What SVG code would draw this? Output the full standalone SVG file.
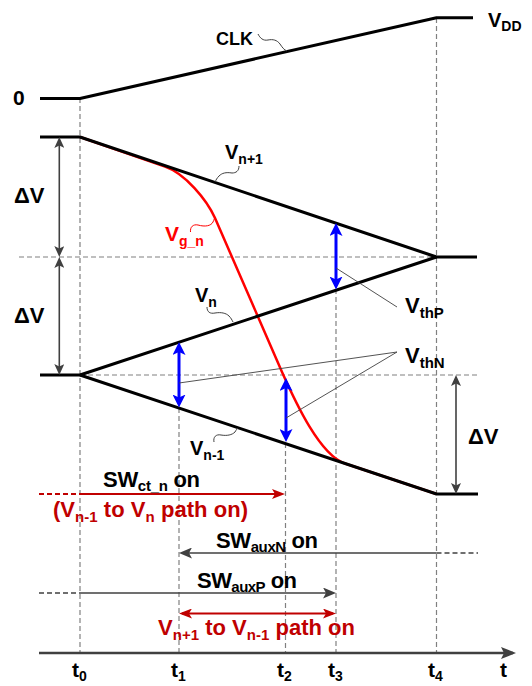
<svg xmlns="http://www.w3.org/2000/svg" width="532" height="686" viewBox="0 0 532 686">
<style>
.t{font-family:"Liberation Sans",Arial,sans-serif;font-weight:bold;font-size:21px;fill:#000}
.s{font-size:14px}
.b{font-size:22px}
.b .s{font-size:15px}
.dr{fill:#C00000}
.br{fill:#FF0000}
.dash{stroke:#808080;stroke-width:1.2;stroke-dasharray:5 3;fill:none}
.wave{stroke:#000;stroke-width:3;fill:none;stroke-linejoin:round}
.sq{stroke:#404040;stroke-width:1;fill:none}
.ld{stroke:#404040;stroke-width:0.9;fill:none}
.ga{stroke:#404040;stroke-width:1.6;fill:none}
.ra{stroke:#C00000;stroke-width:2;fill:none}
.bl{stroke:#0000FF;stroke-width:3;fill:none}
</style>
<defs>
<marker id="mb" markerUnits="userSpaceOnUse" viewBox="0 0 13 13" markerWidth="13" markerHeight="13" refX="9" refY="6.5" orient="auto-start-reverse"><path d="M0,0 L13,6.5 L0,13 L3,6.5 z" fill="#0000FF"/></marker>
<marker id="mg" markerUnits="userSpaceOnUse" viewBox="0 0 11 10" markerWidth="11" markerHeight="10" refX="8" refY="5" orient="auto-start-reverse"><path d="M0,0 L11,5 L0,10 L2.5,5 z" fill="#404040"/></marker>
<marker id="mg2" markerUnits="userSpaceOnUse" viewBox="0 0 13 11" markerWidth="13" markerHeight="11" refX="10" refY="5.5" orient="auto-start-reverse"><path d="M0,0 L13,5.5 L0,11 L3,5.5 z" fill="#404040"/></marker>
<marker id="mr" markerUnits="userSpaceOnUse" viewBox="0 0 13 10" markerWidth="13" markerHeight="10" refX="10" refY="5" orient="auto-start-reverse"><path d="M0,0 L13,5 L0,10 L3,5 z" fill="#C00000"/></marker>
<marker id="mt" markerUnits="userSpaceOnUse" viewBox="0 0 15 12" markerWidth="15" markerHeight="12" refX="12" refY="6" orient="auto"><path d="M0,0 L15,6 L0,12 L3,6 z" fill="#404040"/></marker>
</defs>
<rect width="532" height="686" fill="#fff"/>
<g id="grid">
<path class="dash" d="M80,98 V653 M179,408 V653 M285.5,443 V653 M336,289 V653 M436.5,18 V653"/>
<path class="dash" d="M19,257 H436.5 M80,375 H477"/>
</g>
<g id="waveforms">
<path id="vgn" d="M80,137 L165,166.6 C185,173.3 207,200 215,218 L282,372 C296,403.5 320,455 345,463.5 L436.5,494" stroke="#FF0000" stroke-width="2.5" fill="none"/>
<path id="clk" class="wave" d="M40,98.5 H80 L436.5,17.7 H473"/>
<path id="vnp1" class="wave" d="M40,137 H80 L436.5,257 H477"/>
<path id="vn" class="wave" d="M40,375 H80 L436.5,257"/>
<path id="vnm1" class="wave" d="M80,375 L436.5,494 H478"/>
</g>
<g id="connectors">
<path class="ga" d="M59.3,140 V254" marker-start="url(#mg)" marker-end="url(#mg)"/>
<path class="ga" d="M59.3,260 V372" marker-start="url(#mg)" marker-end="url(#mg)"/>
<path class="ga" d="M456,378 V491" marker-start="url(#mg)" marker-end="url(#mg)"/>
<path class="bl" d="M336,227 V285.5" marker-start="url(#mb)" marker-end="url(#mb)"/>
<path class="bl" d="M179,346 V403.5" marker-start="url(#mb)" marker-end="url(#mb)"/>
<path class="bl" d="M286,382 V438" marker-start="url(#mb)" marker-end="url(#mb)"/>
<path class="ld" d="M336,268 L397,307 M397,352 L179,383 M397,352 L286,418"/>
<path class="sq" d="M258,34 C260,38 263,41 268,40 C273,39 277,40 280,44 C282,47 284,50 287,51"/>
<path class="sq" d="M239,166 C239,171 236,173 232,173 C226,172 222,173 219,176 C217,178 216,180 215,182"/>
<path d="M190.5,232 C190,227 193,224 198,225 C205,227 211,226 213,222 C214,220 214.5,218 215,217" stroke="#FF0000" stroke-width="1" fill="none"/>
<path class="sq" d="M207,307 C207,312 210,314 215,313 C221,312 226,313 229,316 C231,318 232,320 233,322"/>
<path class="sq" d="M214,442 C213,437 216,434 221,435 C227,436 232,435 235,432 C236,430 237,429 238,428"/>
<path class="ra" d="M39,494 H80" stroke-dasharray="5 3"/>
<path class="ra" d="M80,494 H282" marker-end="url(#mr)"/>
<path class="ga" d="M436.5,553 H182" marker-end="url(#mg2)"/>
<path class="ga" d="M436.5,553 H478" stroke-dasharray="5 3"/>
<path class="ga" d="M39,593 H80" stroke-dasharray="5 3"/>
<path class="ga" d="M80,593 H333" marker-end="url(#mg2)"/>
<path class="ra" d="M182,613.5 H333" marker-start="url(#mr)" marker-end="url(#mr)"/>
<path d="M39,653 H513" stroke="#404040" stroke-width="2.5" fill="none" marker-end="url(#mt)"/>
</g>
<g id="labels">
<text class="t" x="13" y="105">0</text>
<text class="t" x="488" y="27" style="font-size:20px">V<tspan class="s" dy="4">DD</tspan></text>
<text class="t" x="216" y="45" style="font-size:18px">CLK</text>
<text class="t" x="225" y="159" style="font-size:20px">V<tspan class="s" dy="5">n+1</tspan></text>
<text class="t br" x="165" y="241">V<tspan class="s" dy="5">g_n</tspan></text>
<text class="t" x="195" y="302" style="font-size:20px">V<tspan class="s" dy="5">n</tspan></text>
<text class="t" x="190" y="455" style="font-size:20px">V<tspan class="s" dy="5">n-1</tspan></text>
<text class="t b" x="405" y="313">V<tspan class="s" dy="5">thP</tspan></text>
<text class="t b" x="405" y="363">V<tspan class="s" dy="5">thN</tspan></text>
<text class="t b" x="14" y="203">ΔV</text>
<text class="t b" x="14" y="323">ΔV</text>
<text class="t b" x="468" y="444">ΔV</text>
<text class="t b" x="103" y="487" textLength="97" lengthAdjust="spacing">SW<tspan class="s" dy="4">ct_n</tspan><tspan dy="-4"> on</tspan></text>
<text class="t b dr" x="53" y="517" textLength="195" lengthAdjust="spacing">(V<tspan class="s" dy="5">n-1</tspan><tspan dy="-5"> to V</tspan><tspan class="s" dy="5">n</tspan><tspan dy="-5"> path on)</tspan></text>
<text class="t b" x="216" y="548" textLength="102" lengthAdjust="spacing">SW<tspan class="s" dy="4">auxN</tspan><tspan dy="-4"> on</tspan></text>
<text class="t b" x="197" y="588" textLength="100" lengthAdjust="spacing">SW<tspan class="s" dy="4">auxP</tspan><tspan dy="-4"> on</tspan></text>
<text class="t b dr" x="158" y="635" textLength="197" lengthAdjust="spacing">V<tspan class="s" dy="5">n+1</tspan><tspan dy="-5"> to V</tspan><tspan class="s" dy="5">n-1</tspan><tspan dy="-5"> path on</tspan></text>
<text class="t" x="72" y="677">t<tspan class="s" dy="4">0</tspan></text>
<text class="t" x="171" y="677">t<tspan class="s" dy="4">1</tspan></text>
<text class="t" x="277" y="677">t<tspan class="s" dy="4">2</tspan></text>
<text class="t" x="328" y="677">t<tspan class="s" dy="4">3</tspan></text>
<text class="t" x="428" y="677">t<tspan class="s" dy="4">4</tspan></text>
<text class="t" x="500" y="677">t</text>
</g>
</svg>
